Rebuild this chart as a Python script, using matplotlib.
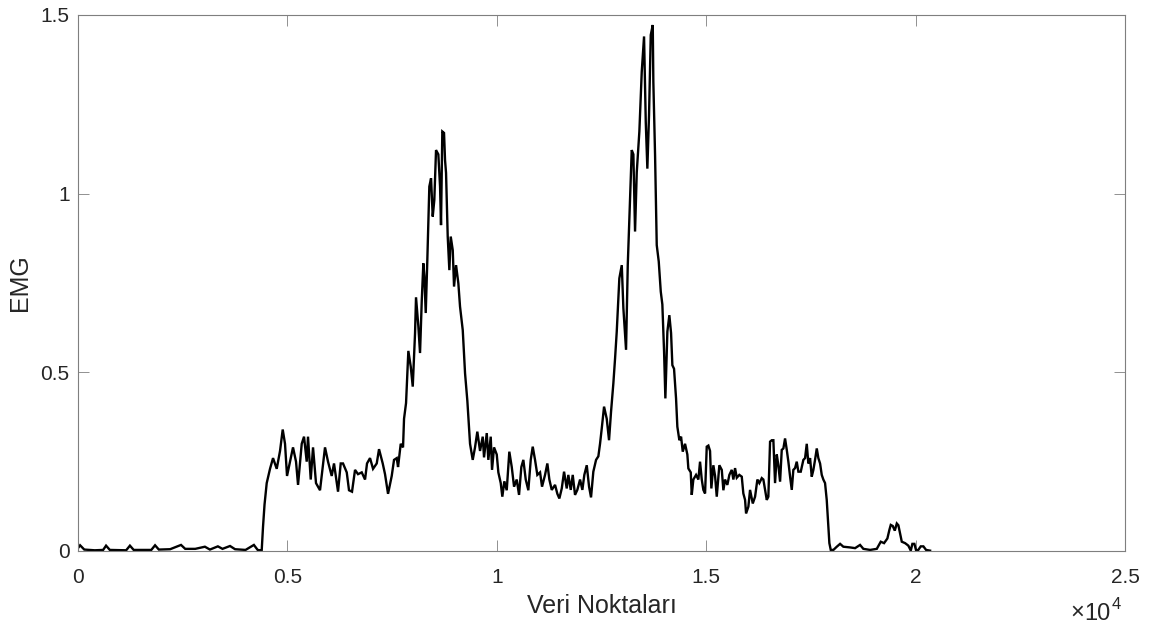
import matplotlib
matplotlib.use("Agg")
import matplotlib.pyplot as plt
import numpy as np

plt.rcParams['font.family'] = ['Liberation Sans', 'DejaVu Sans']

# ---- data (sample index, EMG envelope) ----
sample_idx = [
    0, 50, 150, 400, 600, 670, 760, 1150, 1240, 1330, 1750, 1840, 1930, 2200, 2460, 2560,
    2800, 3030, 3150, 3340, 3450, 3630, 3750, 4000, 4200, 4290, 4340,
    4387, 4418, 4454, 4506, 4585, 4657, 4745, 4824, 4888, 4943, 4991, 5063, 5134, 5206,
    5254, 5342, 5397, 5461, 5492, 5557, 5612, 5683, 5779, 5898, 5970, 6058, 6113, 6209,
    6273, 6328, 6417, 6471, 6543, 6615, 6686, 6775, 6854, 6901, 6973, 7045, 7133, 7188,
    7276, 7331, 7403, 7491, 7546, 7611, 7642, 7706, 7761, 7785, 7833, 7888, 7945, 7993,
    8048, 8071, 8126, 8167, 8208, 8246, 8270, 8303, 8341, 8389, 8430, 8470, 8508, 8549,
    8604, 8645, 8668, 8699, 8740, 8764, 8788, 8828, 8867, 8900, 8948, 8979, 9027, 9082,
    9122, 9187, 9242, 9297, 9344, 9361, 9425, 9480, 9535, 9600, 9664, 9695, 9760, 9798,
    9855, 9886, 9934, 9999, 10037, 10094, 10132, 10180, 10237, 10299, 10357, 10412, 10476,
    10531, 10586, 10634, 10691, 10753, 10810, 10858, 10913, 10968, 11033, 11080, 11152,
    11207, 11255, 11312, 11391, 11446, 11494, 11551, 11606, 11670, 11708, 11766, 11813,
    11868, 11923, 11988, 12043, 12090, 12148, 12203, 12250, 12305, 12370, 12425, 12465,
    12506, 12561, 12625, 12680, 12728, 12783, 12824, 12864, 12926, 12984, 13022, 13086,
    13127, 13165, 13222, 13261, 13301, 13342, 13404, 13461, 13516, 13557, 13595, 13635,
    13676, 13724, 13738, 13779, 13819, 13867, 13915, 13953, 13994, 14025, 14073, 14120,
    14161, 14192, 14232, 14280, 14311, 14359, 14400, 14440, 14495, 14550, 14574, 14631,
    14655, 14693, 14758, 14813, 14853, 14894, 14932, 14973, 15013, 15052, 15092, 15123,
    15171, 15212, 15252, 15314, 15372, 15410, 15450, 15505, 15553, 15610, 15649, 15689,
    15730, 15791, 15849, 15887, 15928, 15952, 16007, 16047, 16112, 16167, 16222, 16269,
    16327, 16365, 16406, 16446, 16484, 16525, 16566, 16604, 16644, 16685, 16723, 16764,
    16804, 16843, 16883, 16924, 16962, 17003, 17043, 17081, 17122, 17162, 17201, 17258,
    17320, 17361, 17401, 17439, 17480, 17520, 17559, 17599, 17640, 17678, 17719, 17759,
    17797, 17838, 17878, 17902, 17941, 17974, 18037, 18118, 18197, 18275, 18435, 18555,
    18674, 18753, 18913, 19073, 19168, 19247, 19326, 19374, 19407, 19455, 19503, 19551,
    19589, 19629, 19670, 19749, 19827, 19885, 19923, 19971, 20011, 20065, 20123, 20186,
    20250, 20346,
]
emg = [
    0.008, 0.016, 0.004, 0.002, 0.003, 0.015, 0.003, 0.002, 0.015, 0.003, 0.003, 0.016, 0.004,
    0.005, 0.017, 0.006, 0.006, 0.012, 0.004, 0.013, 0.006, 0.014, 0.005, 0.003, 0.017, 0.003, 0.002,
    0.003, 0.068, 0.13, 0.19, 0.23, 0.26, 0.23, 0.28, 0.34, 0.30, 0.21, 0.25, 0.29, 0.25,
    0.185, 0.30, 0.32, 0.25, 0.32, 0.20, 0.29, 0.19, 0.17, 0.29, 0.25, 0.21, 0.245, 0.166,
    0.245, 0.245, 0.22, 0.17, 0.166, 0.227, 0.215, 0.22, 0.20, 0.245, 0.26, 0.23, 0.245, 0.285,
    0.245, 0.215, 0.16, 0.21, 0.255, 0.26, 0.235, 0.30, 0.29, 0.37, 0.414, 0.56, 0.516, 0.46,
    0.61, 0.71, 0.63, 0.554, 0.70, 0.805, 0.77, 0.666, 0.814, 1.02, 1.043, 0.936, 0.982, 1.122,
    1.11, 1.02, 0.912, 1.174, 1.17, 1.094, 1.058, 0.88, 0.786, 0.88, 0.842, 0.74, 0.80, 0.749,
    0.684, 0.618, 0.497, 0.42, 0.33, 0.30, 0.255, 0.29, 0.334, 0.28, 0.32, 0.262, 0.33, 0.255,
    0.32, 0.227, 0.29, 0.27, 0.22, 0.19, 0.152, 0.195, 0.17, 0.278, 0.235, 0.18, 0.20,
    0.157, 0.235, 0.255, 0.20, 0.17, 0.255, 0.292, 0.255, 0.213, 0.22, 0.18, 0.213,
    0.245, 0.20, 0.171, 0.185, 0.16, 0.147, 0.175, 0.222, 0.175, 0.213, 0.171, 0.213,
    0.157, 0.171, 0.20, 0.171, 0.213, 0.24, 0.18, 0.15, 0.222, 0.255, 0.265, 0.30,
    0.343, 0.404, 0.37, 0.31, 0.39, 0.469, 0.539, 0.614, 0.763, 0.80, 0.68, 0.563,
    0.80, 0.93, 1.122, 1.11, 0.894, 1.06, 1.174, 1.341, 1.44, 1.20, 1.07, 1.22,
    1.444, 1.472, 1.313, 1.108, 0.856, 0.81, 0.726, 0.69, 0.558, 0.427, 0.614, 0.66,
    0.61, 0.52, 0.51, 0.427, 0.348, 0.31, 0.32, 0.278, 0.30, 0.27, 0.231, 0.22,
    0.157, 0.20, 0.213, 0.20, 0.25, 0.20, 0.171, 0.161, 0.292, 0.295, 0.28, 0.175,
    0.24, 0.21, 0.152, 0.24, 0.227, 0.17, 0.20, 0.185, 0.213, 0.227, 0.20, 0.232,
    0.205, 0.213, 0.208, 0.161, 0.143, 0.105, 0.124, 0.171, 0.133, 0.152, 0.20, 0.19,
    0.204, 0.20, 0.171, 0.143, 0.152, 0.306, 0.31, 0.31, 0.19, 0.27, 0.24, 0.194,
    0.283, 0.287, 0.315, 0.283, 0.25, 0.208, 0.171, 0.227, 0.232, 0.25, 0.222, 0.222,
    0.255, 0.26, 0.30, 0.245, 0.26, 0.208, 0.227, 0.255, 0.287, 0.26, 0.245, 0.213,
    0.20, 0.19, 0.143, 0.096, 0.022, 0.003, 0.003, 0.012, 0.02, 0.012, 0.01, 0.008,
    0.017, 0.006, 0.003, 0.006, 0.026, 0.022, 0.035, 0.059, 0.073, 0.07, 0.057, 0.077,
    0.072, 0.05, 0.026, 0.022, 0.015, 0.001, 0.02, 0.02, 0.002, 0.003, 0.013, 0.013,
    0.003, 0.001,
]

x_ticks = [0, 5000, 10000, 15000, 20000, 25000]
x_tick_labels = ["0", "0.5", "1", "1.5", "2", "2.5"]
y_ticks = [0, 0.5, 1.0, 1.5]
y_tick_labels = ["0", "0.5", "1", "1.5"]

fig = plt.figure(figsize=(11.57, 6.26), dpi=100)
ax = fig.add_axes([78 / 1157, 75 / 626, (1125 - 78) / 1157, (551 - 15) / 626])

ax.plot(sample_idx, emg, color='black', linewidth=1.7, solid_joinstyle='miter')

ax.set_xlim(0, 25000)
ax.set_ylim(0, 1.5)
ax.set_xticks(x_ticks)
ax.set_xticklabels(x_tick_labels)
ax.set_yticks(y_ticks)
ax.set_yticklabels(y_tick_labels)

axis_col = '#262626'
ax.tick_params(direction='in', length=8, width=0.6, colors=axis_col, labelsize=15,
               top=True, right=True)
ax.tick_params(axis='x', pad=12)
ax.tick_params(axis='y', pad=6)
ax.tick_params(colors='#7f7f7f', labelcolor=axis_col)
for s in ax.spines.values():
    s.set_color('#7f7f7f')
    s.set_linewidth(0.8)

ax.set_xlabel('Veri Noktaları', fontsize=18, color=axis_col, labelpad=5)
ax.set_ylabel('EMG', fontsize=18, color=axis_col, labelpad=6)

# axis exponent label
fig.text(1084 / 1157, 1 - 619 / 626, '×', ha='right', va='baseline',
         fontsize=17, color=axis_col)
fig.text(1111 / 1157, 1 - 620 / 626, '10', ha='right', va='baseline',
         fontsize=17, color=axis_col)
fig.text(1112 / 1157, 1 - 609 / 626, '4', ha='left', va='baseline',
         fontsize=12, color=axis_col)

fig.savefig('out.png', dpi=100, facecolor='white')
